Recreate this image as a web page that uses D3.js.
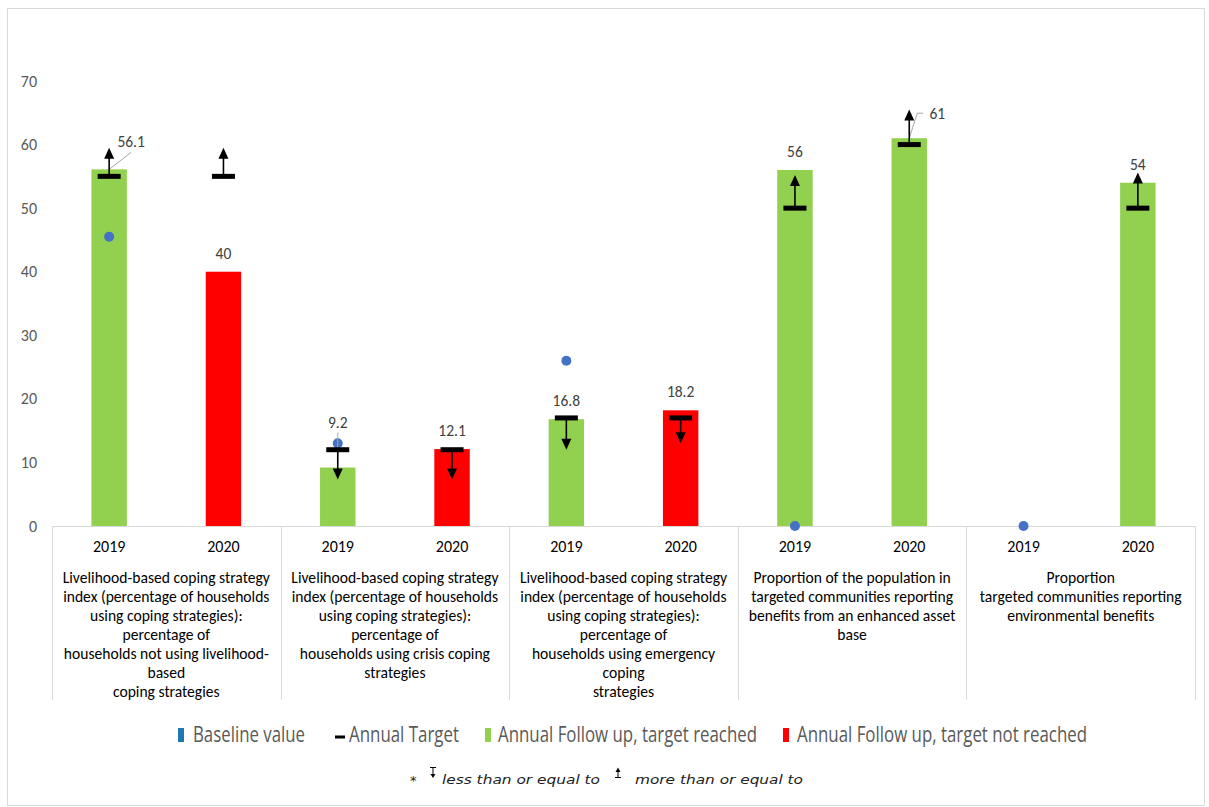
<!DOCTYPE html>
<html>
<head>
<meta charset="utf-8">
<script src="https://cdn.jsdelivr.net/npm/d3@7"></script>
<style>
  body { margin: 0; background: #fff; }
  svg { display: block; font-family: Calibri, Carlito, "Liberation Sans", Arial, sans-serif; }
</style>
</head>
<body>
<script>
// indicator groups, each one has a 2019 and a 2020 bar
var groups = [
    ["Livelihood-based coping strategy", "index (percentage of households", "using coping strategies):", "percentage of", "households not using livelihood-", "based", "coping strategies"],
    ["Livelihood-based coping strategy", "index (percentage of households", "using coping strategies):", "percentage of", "households using crisis coping", "strategies"],
    ["Livelihood-based coping strategy", "index (percentage of households", "using coping strategies):", "percentage of", "households using emergency", "coping", "strategies"],
    ["Proportion of the population in", "targeted communities reporting", "benefits from an enhanced asset", "base"],
    ["Proportion", "targeted communities reporting", "environmental benefits"]
];
var years = ["2019", "2020"];

// one value per bar (group x year)
var followUp = [56.1, 40, 9.2, 12.1, 16.8, 18.2, 56, 61, null, 54];
var reached = [true, false, true, false, true, false, true, true, null, true];
var targets = [55, 55, 12, 12, 17, 17, 50, 60, null, 50];
var arrowTips = [59.5, 59.5, 7.3, 7.3, 12, 13, 55.2, 65.5, null, 55.6];
var baseline = [45.5, null, 13, null, 26, null, 0, null, 0, null];

var yTicks = [0, 10, 20, 30, 40, 50, 60, 70];

var legendItems = ["Baseline value", "Annual Target", "Annual Follow up, target reached", "Annual Follow up, target not reached"];

var width = 1209;
var height = 807;
var margin = ({ top: 81, right: 14, bottom: 281, left: 52 });

var colors = { reached: "#92D050", missed: "#FF0000", base: "#4472C4", text: "#404040", axis: "#D9D9D9" };

var bars = [];
groups.forEach(function (g, gi) {
    years.forEach(function (yr, yi) {
        var i = gi * years.length + yi;
        bars.push({
            i: i, key: gi + "-" + yr, year: yr, group: gi,
            value: followUp[i], ok: reached[i], target: targets[i],
            tip: arrowTips[i], base: baseline[i]
        });
    });
});

var svg = d3.select("body").append("svg")
    .attr("width", width)
    .attr("height", height);

svg.append("rect")
    .attr("x", 7.5).attr("y", 8.5)
    .attr("width", width - 12).attr("height", height - 10)
    .attr("fill", "#fff")
    .attr("stroke", colors.axis);

var x = d3.scaleBand()
    .domain(bars.map(d => d.key))
    .range([margin.left, width - margin.right])
    .paddingInner(0.69)
    .paddingOuter(0.345);

var y = d3.scaleLinear()
    .domain([0, 70])
    .range([height - margin.bottom, margin.top]);

var groupW = (width - margin.right - margin.left) / groups.length;
var cx = d => x(d.key) + x.bandwidth() / 2;

// y axis labels only, no line
var yAxis = svg.append("g")
    .attr("transform", `translate(${margin.left - 15},0)`)
    .call(d3.axisLeft(y).tickValues(yTicks).tickSize(0).tickPadding(0));
yAxis.select(".domain").remove();
yAxis.selectAll("text")
    .attr("fill", "#595959")
    .style("font-size", "16px")
    .style("font-family", "Calibri, Carlito, 'Liberation Sans', Arial, sans-serif");

// x axis: base line, group separators, years, group labels
var y0 = y(0);
svg.append("line")
    .attr("x1", margin.left).attr("x2", width - margin.right)
    .attr("y1", y0 + 0.5).attr("y2", y0 + 0.5)
    .attr("stroke", colors.axis);

svg.append("g")
    .selectAll("line")
    .data(d3.range(groups.length + 1))
    .join("line")
    .attr("x1", i => Math.round(margin.left + i * groupW) + 0.5)
    .attr("x2", i => Math.round(margin.left + i * groupW) + 0.5)
    .attr("y1", y0)
    .attr("y2", 700)
    .attr("stroke", colors.axis);

svg.append("g")
    .selectAll("text")
    .data(bars)
    .join("text")
    .attr("x", cx)
    .attr("y", y0 + 26)
    .attr("text-anchor", "middle")
    .attr("fill", "#000")
    .style("font-size", "16px")
    .text(d => d.year);

var glabels = svg.append("g")
    .selectAll("text")
    .data(groups)
    .join("text")
    .attr("text-anchor", "middle")
    .attr("fill", "#000")
    .style("font-size", "15.6px");
glabels.selectAll("tspan")
    .data((d, gi) => d.map(t => ({ t: t, gi: gi })))
    .join("tspan")
    .attr("x", d => margin.left + (d.gi + 0.5) * groupW)
    .attr("y", (d, i) => y0 + 57 + i * 19)
    .text(d => d.t);

// bars
svg.append("g")
    .selectAll("rect")
    .data(bars.filter(d => d.value != null))
    .join("rect")
    .attr("x", d => x(d.key))
    .attr("y", d => y(d.value))
    .attr("width", x.bandwidth())
    .attr("height", d => y(0) - y(d.value))
    .attr("fill", d => d.ok ? colors.reached : colors.missed);

// baseline dots
svg.append("g")
    .selectAll("circle")
    .data(bars.filter(d => d.base != null))
    .join("circle")
    .attr("cx", cx)
    .attr("cy", d => y(d.base))
    .attr("r", 5)
    .attr("fill", colors.base);

// data labels, a few have leader lines like in excel
var labelPos = {
    0: { dx: 22, dy: -22, leader: [[0, 0], [22, -17]] },
    2: { dx: 0, dy: -40, leader: [[0, -3], [0, -35]] },
    7: { dx: 28, dy: -19, leader: [[0, 0], [8, -25], [14, -25]] }
};

var labelled = bars.filter(d => d.value != null);

svg.append("g")
    .selectAll("path")
    .data(labelled.filter(d => labelPos[d.i]))
    .join("path")
    .attr("d", d => d3.line()(labelPos[d.i].leader.map(p => [cx(d) + p[0], y(d.value) + p[1]])))
    .attr("fill", "none")
    .attr("stroke", "#A6A6A6")
    .attr("stroke-width", 1);

// targets and arrows
var tgt = svg.append("g")
    .selectAll("g")
    .data(bars.filter(d => d.target != null))
    .join("g");

tgt.append("line")
    .attr("x1", cx).attr("x2", cx)
    .attr("y1", d => y(d.target))
    .attr("y2", d => y(d.tip) + (d.tip > d.target ? 9 : -9))
    .attr("stroke", "#000")
    .attr("stroke-width", 1.6);

tgt.append("path")
    .attr("d", function (d) {
        var tx = cx(d), ty = y(d.tip), s = d.tip > d.target ? 1 : -1;
        return d3.line()([[tx, ty], [tx - 5, ty + s * 11], [tx + 5, ty + s * 11]]) + "Z";
    })
    .attr("fill", "#000");

tgt.append("rect")
    .attr("x", d => cx(d) - 11.5)
    .attr("y", d => y(d.target) - 2.5)
    .attr("width", 23)
    .attr("height", 5)
    .attr("fill", "#000");

svg.append("g")
    .selectAll("text")
    .data(labelled)
    .join("text")
    .attr("x", d => cx(d) + (labelPos[d.i] ? labelPos[d.i].dx : 0))
    .attr("y", d => y(d.value) + (labelPos[d.i] ? labelPos[d.i].dy : -13))
    .attr("text-anchor", "middle")
    .attr("fill", colors.text)
    .style("font-size", "15.5px")
    .text(d => d.value);

// legend (condensed look, squeezed with textLength)
var legend = svg.append("g")
    .attr("transform", "translate(0,742)")
    .style("font-family", "'Open Sans', sans-serif")
    .style("font-size", "21px")
    .attr("fill", "#595959");

var legendX = [178, 335, 485, 783];
var legendText = [193, 349, 498, 797];
var legendLen = [112, 110, 259, 290];
var legendSwatch = ["#1F77B4", "#000", colors.reached, colors.missed];
legendItems.forEach(function (t, i) {
    if (i == 1) {
        legend.append("rect").attr("x", legendX[i]).attr("y", -6.5).attr("width", 10).attr("height", 3).attr("fill", "#000");
    } else {
        legend.append("rect").attr("x", legendX[i]).attr("y", -14).attr("width", 6).attr("height", 14).attr("fill", legendSwatch[i]);
    }
    legend.append("text")
        .attr("x", legendText[i])
        .attr("y", 0)
        .attr("textLength", legendLen[i])
        .attr("lengthAdjust", "spacingAndGlyphs")
        .text(t);
});

// footnote with the two arrow symbols
var note = svg.append("g")
    .attr("transform", "translate(0,784)")
    .attr("fill", "#222")
    .style("font-size", "13px")
    .style("font-style", "italic")
    .style("font-family", "'DejaVu Sans', sans-serif");

note.append("text").attr("x", 410).attr("y", 1).style("font-style", "normal").text("*");
note.append("path").attr("d", "M430,-16.5H436M433,-16.5V-9").attr("stroke", "#000").attr("fill", "none");
note.append("path").attr("d", "M430.5,-10L433,-6L435.5,-10Z").attr("fill", "#000");
note.append("text").attr("x", 442).attr("y", 0).attr("textLength", 158).attr("lengthAdjust", "spacingAndGlyphs").text("less than or equal to");
note.append("path").attr("d", "M615,-6.5H621M618,-6.5V-13").attr("stroke", "#000").attr("fill", "none");
note.append("path").attr("d", "M615.5,-12L618,-16.5L620.5,-12Z").attr("fill", "#000");
note.append("text").attr("x", 635).attr("y", 0).attr("textLength", 168).attr("lengthAdjust", "spacingAndGlyphs").text("more than or equal to");
</script>
</body>
</html>
